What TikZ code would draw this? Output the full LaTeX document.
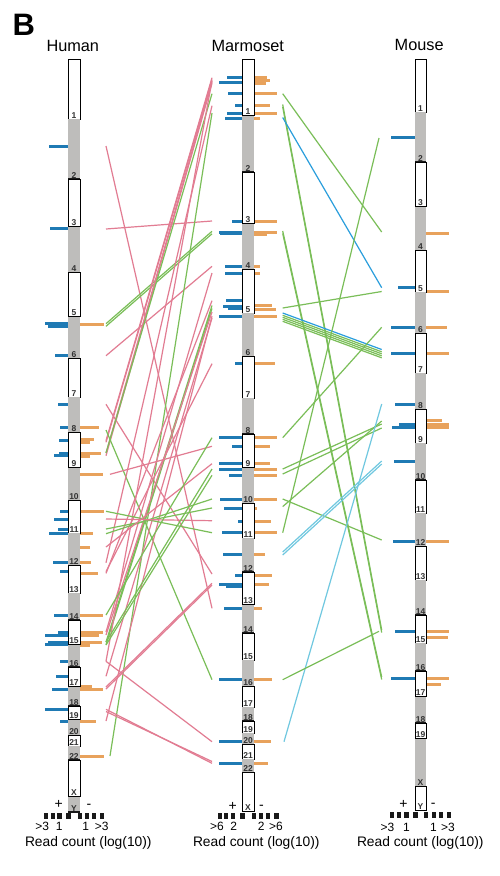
\documentclass[tikz,border=0pt]{standalone}
\usepackage{fontspec}
\setmainfont{Liberation Sans}
\definecolor{pinkc}{RGB}{226,124,146}
\definecolor{greenc}{RGB}{122,190,88}
\definecolor{barblue}{RGB}{31,122,180}
\definecolor{barorange}{RGB}{232,162,92}
\definecolor{lineblue}{RGB}{42,158,220}
\definecolor{lightbluec}{RGB}{112,200,224}
\definecolor{chrgrayc}{RGB}{190,189,187}
\tikzset{
  pinkln/.style={draw=pinkc,line width=1.2pt},
  greenln/.style={draw=greenc,line width=1.2pt},
  blueln/.style={draw=lineblue,line width=1.2pt},
  lblueln/.style={draw=lightbluec,line width=1.2pt},
  chrwhite/.style={draw=black,line width=0.8pt,fill=white},
  chrgray/.style={fill=chrgrayc},
  chrsep/.style={draw=black!90,line width=1.7pt},
  chrlab/.style={anchor=base,inner sep=0pt,font=\fontsize{8.5}{8.5}\selectfont\bfseries,text=black!80},
  title/.style={anchor=base,inner sep=0pt,font=\fontsize{16.3}{16.3}\selectfont},
  sclab/.style={anchor=base,inner sep=0pt,font=\fontsize{12}{12}\selectfont},
  pmlab/.style={anchor=center,inner sep=0pt,font=\fontsize{14}{14}\selectfont},
  rclab/.style={anchor=base,inner sep=0pt,font=\fontsize{13.8}{13.8}\selectfont},
  sq/.style={fill=black!90}
}
\newcommand\chromcol[5]{%
  \foreach \b/\lab [count=\i, remember=\b as \t (initially #4)] in {#5} {%
    \ifodd\i\relax
      \draw[chrwhite] (#2,\t) rectangle (#3,\b);
    \else
      \fill[chrgray] (#2,\t) rectangle (#3,\b);
      \draw[chrsep] (#2,\b) -- (#3,\b);
    \fi
    \node[chrlab] (#1-\i) at ({(#2+#3)/2},{\b-0.9}) {\lab};
  }%
}
\begin{document}
\begin{tikzpicture}[x=1pt,y=-1pt]
\useasboundingbox (0,0) rectangle (500,876);
\fill[white] (0,0) rectangle (500,876);

% ---------- connectors human -> marmoset ----------
\foreach \xa/\ya/\xb/\yb/\st [count=\i] in {
 106/146/212/608.3/pinkln,
 106/229/212/221/pinkln,
 106/323.7/212/231.3/greenln,
 106/326.3/212/233.8/greenln,
 106/355.7/212/266.3/pinkln,
 106/404.3/212/574/pinkln,
 106/440.7/212/77.7/pinkln,
 106/442.3/212/79.5/pinkln,
 106/453/212/81.5/pinkln,
 106/455.7/212/83.3/pinkln,
 106/453/212/93.7/greenln,
 106/430/212/679.7/greenln,
 106/562.7/212/105.7/pinkln,
 110/756/212/113/greenln,
 106/632/212/273/pinkln,
 106/573.3/212/300.7/pinkln,
 106/642/212/305.5/greenln,
 106/644.7/212/308.5/greenln,
 106/635/212/312/pinkln,
 106/721/212/316.3/pinkln,
 106/676.3/212/318/pinkln,
 106/571.7/212/363.7/pinkln,
 110/474.3/212/446.3/pinkln,
 106/661.3/212/741.7/pinkln,
 106/661.3/212/80.7/pinkln,
 106/689/212/585/pinkln,
 106/687/212/583.3/pinkln,
 106/709.3/212/763.3/pinkln,
 106/711.5/212/761.5/pinkln,
 106/511.3/212/532.7/greenln,
 106/529/212/508/greenln,
 106/533.7/212/499/greenln,
 106/519/212/520.7/pinkln,
 106/547/212/463.7/pinkln,
 106/615/212/437.7/greenln,
 106/642/212/469/greenln,
 106/645/212/475.3/greenln} {
  \coordinate (hm-a\i) at (\xa,\ya);
  \coordinate (hm-b\i) at (\xb,\yb);
  \draw[\st] (hm-a\i) -- (hm-b\i);
}

% ---------- connectors marmoset -> mouse ----------
\foreach \xa/\ya/\xb/\yb/\st [count=\i] in {
 282.7/93.7/381.7/232/greenln,
 282.7/104.5/381.7/630/greenln,
 282.7/107/381.7/632.5/greenln,
 282.7/117.5/381.7/287.7/blueln,
 282.7/231/381.7/677/greenln,
 282.7/233.5/381.7/679.5/greenln,
 282.7/308/381.7/291.5/greenln,
 282.7/313/381.7/349.5/blueln,
 282.7/315.3/381.7/351.8/greenln,
 282.7/317.3/381.7/353.8/greenln,
 282.7/319.3/381.7/355.8/greenln,
 282.7/321.3/381.7/357.8/greenln,
 282.7/437.7/381.7/327.3/greenln,
 282.7/469/381.7/424/greenln,
 282.7/474/381.7/428/greenln,
 282.7/506.6/381.7/421/greenln,
 282.7/499/381.7/540/greenln,
 282.7/532.7/379/138/greenln,
 282.7/552/381.7/461/lblueln,
 282.7/555/381.7/464/lblueln,
 284/741.7/381.7/404/lblueln,
 282.7/679.7/379/631.3/greenln} {
  \coordinate (mm-a\i) at (\xa,\ya);
  \coordinate (mm-b\i) at (\xb,\yb);
  \draw[\st] (mm-a\i) -- (mm-b\i);
}

% ---------- bars ----------
% human
\foreach \y/\x in {146/49,228.7/50,323.7/45,326/48,355.7/55,404.3/58,427.7/60,440.7/59,453/59,455.7/54,511.3/60,519/54,529/58,533.7/49,562.7/53,571.7/60,615/54,632/58,635/45,642/48,644.7/45,661.3/60,676.3/56,689/52,709.3/45,721/60}
  \fill[barblue] (\x,{\y-1.5}) rectangle (68,{\y+1.5});
\foreach \y/\x in {324.7/104,427.7/99,439.7/94,442.3/90,453/101,456.7/90,474.3/103,511.3/104,533.7/93,547/90,562.7/91,573.3/98,615/103,632/103,635/99,642.3/102,645.7/90,686.7/92,689/103,721/96,756/104}
  \fill[barorange] (80,{\y-1.5}) rectangle (\x,{\y+1.5});
% marmoset
\foreach \y/\x in {77.7/226.7,82.7/219,93.7/228,105.7/235,113/227,118/225,221/232,232.3/219,233.5/220,266.3/225,273/225,300.7/226,306.7/223,308/228,316.3/219,363.7/235,437.7/219,446.3/232,463.7/219,469/219,475.3/229,499/220,508/224,521/238,532.7/222,554/223,575/235,584.7/219,586/226,608.3/224,679.7/219,741.7/219,763.3/219}
  \fill[barblue] (\x,{\y-1.5}) rectangle (242,{\y+1.5});
\foreach \y/\x in {77.7/267,80.7/270,83.3/266,93.7/277,105.7/270,113/277,118/260,221/277,232.3/277,234.5/267,266.3/260,273/260,305.3/272,309.3/276,316.3/277,363.7/275,437.7/277,446.3/270,463.7/270,469/277,475.3/277,499/277,508/257,521/271,532.7/277,554/265,575/272,584.7/269,608.3/262,679.7/272,741.7/271,763.3/268}
  \fill[barorange] (254,{\y-1.5}) rectangle (\x,{\y+1.5});
% mouse
\foreach \y/\x in {137.7/391,287.7/398,327.3/391,353.3/391,404.3/395,424/399,427/392,461/394,541/393,631.3/395,678.3/391}
  \fill[barblue] (\x,{\y-1.5}) rectangle (415,{\y+1.5});
\foreach \y/\x in {233.3/449,291.7/449,327.3/447,353.3/449,420.7/442,424/449,427.3/449,541/449,631.3/449,637/448,678.3/449,684.3/441}
  \fill[barorange] (426,{\y-1.5}) rectangle (\x,{\y+1.5});

% ---------- chromosome columns ----------
\chromcol{hum}{68}{80}{59.5}{119/1,179/2,226.7/3,272.7/4,316.7/5,358.7/6,397.3/7,432.7/8,467.7/9,500.7/10,533/11,565.7/12,593.3/13,620/14,644.7/15,667.3/16,686.7/17,706.3/18,719.7/19,735.7/20,746.3/21,760/22,796.7/X,812.3/Y}
\chromcol{mar}{242}{254}{59.3}{115.7/1,172/2,223.7/3,269.7/4,313.3/5,356.7/6,398.3/7,434.3/8,467.7/9,503.7/10,538.3/11,572.3/12,604.7/13,633.3/14,660.3/15,686.7/16,707.3/17,721/18,733.3/19,744.7/20,759.3/21,772.7/22,811.7/X}
\chromcol{mou}{415}{426}{59.3}{112.3/1,162.3/2,206.7/3,250.7/4,292/5,333.7/6,373.3/7,409.7/8,443.3/9,480/10,513.3/11,546.7/12,580/13,615/14,643.3/15,671/16,696.7/17,723.3/18,738.7/19,786.7/X,810.7/Y}

% ---------- scale squares ----------
\foreach \a/\b in {44.3/48.3,50.7/55,57.3/61.7,65.7/70.7,78/82,85/89,92/96,99.7/104.3}
  \fill[sq] (\a,812.5) rectangle (\b,819);
\foreach \a/\b in {217.7/221.7,224.3/228.3,231/235,240/245,251.7/256,259.3/263.3,266/270,274.3/279}
  \fill[sq] (\a,812.7) rectangle (\b,818.7);
\foreach \a/\b in {390/394,397.3/401,404.3/408.7,412.7/417.7,424.3/428.3,431.7/435.7,439/443,446.7/451}
  \fill[sq] (\a,812.3) rectangle (\b,818.3);

% ---------- texts ----------
\node[anchor=base,inner sep=0pt,font=\fontsize{31}{31}\selectfont\bfseries] (panel) at (23.7,35) {B};
\node[title] (t-hum) at (72.8,51) {Human};
\node[title] (t-mar) at (247.8,51.5) {Marmoset};
\node[title] (t-mou) at (419.2,50.7) {Mouse};

\node[pmlab] (hum-plus) at (58.7,804) {+};
\node[pmlab] (hum-minus) at (89,806) {-};
\node[pmlab] (mar-plus) at (232.8,806) {+};
\node[pmlab] (mar-minus) at (261.5,807.5) {-};
\node[pmlab] (mou-plus) at (403.5,804.2) {+};
\node[pmlab] (mou-minus) at (433.2,805.3) {-};

\node[sclab] (hum-s1) at (42.2,830.5) {>3};
\node[sclab] (hum-s2) at (59.2,830.5) {1};
\node[sclab] (hum-s3) at (85.8,830.5) {1};
\node[sclab] (hum-s4) at (101.7,830.5) {>3};
\node[sclab] (mar-s1) at (217,830.5) {>6};
\node[sclab] (mar-s2) at (233.7,830.5) {2};
\node[sclab] (mar-s3) at (261.2,830.5) {2};
\node[sclab] (mar-s4) at (276,830.5) {>6};
\node[sclab] (mou-s1) at (387.5,831) {>3};
\node[sclab] (mou-s2) at (406.5,831) {1};
\node[sclab] (mou-s3) at (433.5,831) {1};
\node[sclab] (mou-s4) at (448,831) {>3};

\node[rclab] (hum-rc) at (88.3,846.5) {Read count (log(10))};
\node[rclab] (mar-rc) at (256.3,846.5) {Read count (log(10))};
\node[rclab] (mou-rc) at (420.3,846.5) {Read count (log(10))};
\end{tikzpicture}
\end{document}
